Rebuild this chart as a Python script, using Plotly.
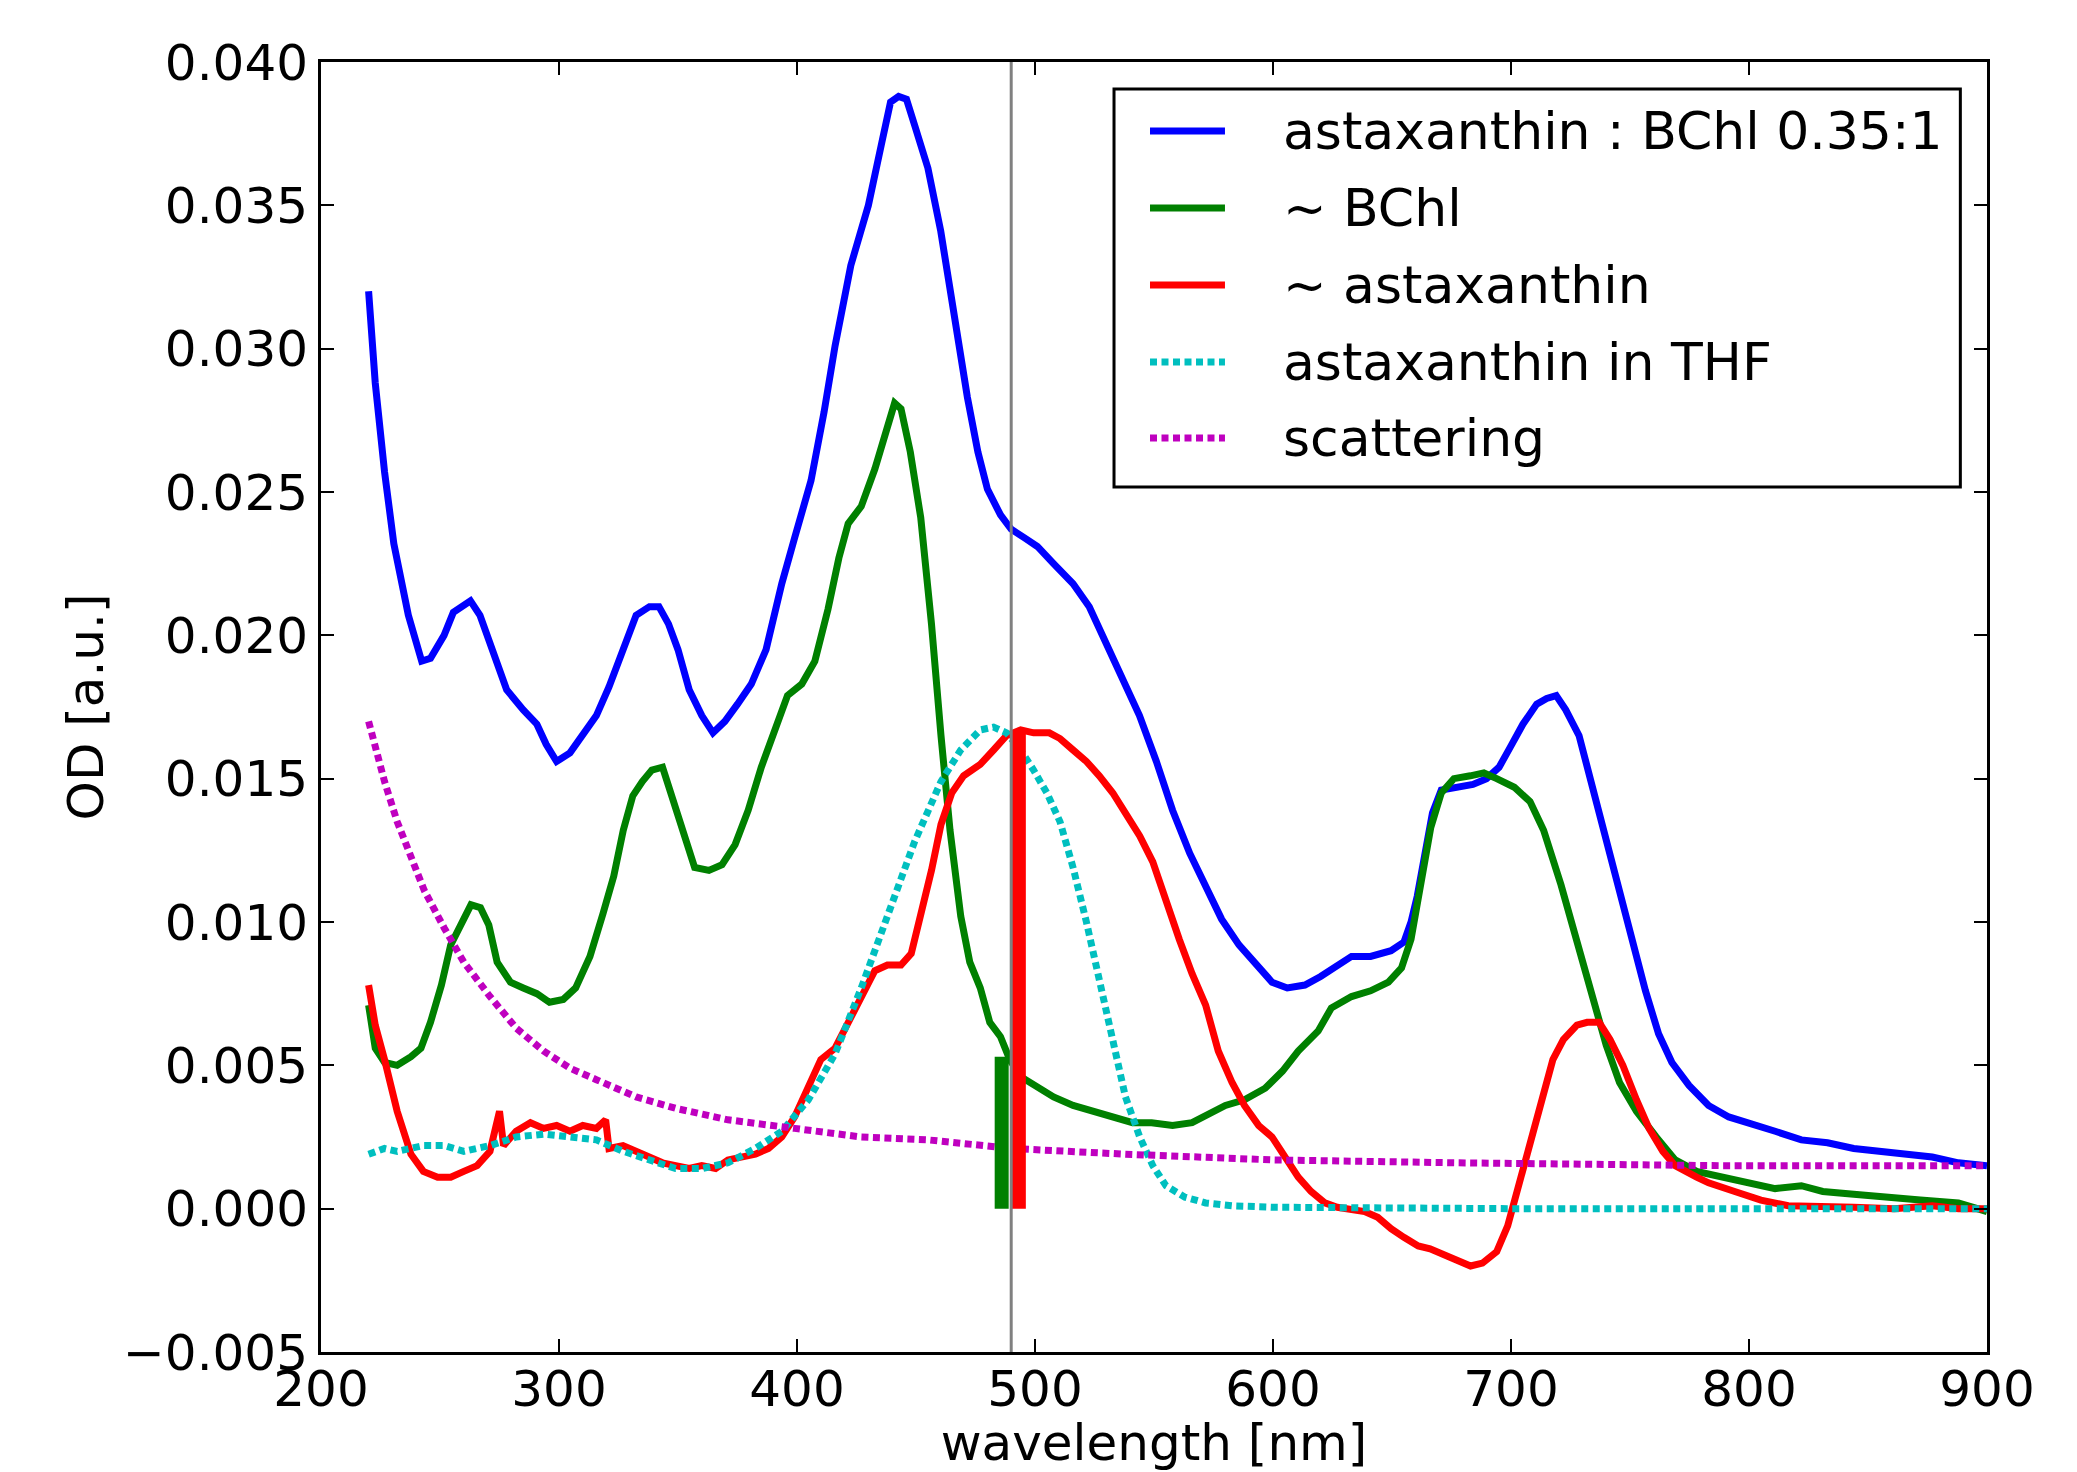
import plotly.graph_objects as go

# ---------------- data ----------------
blue_x = [220, 222.8, 226.7, 230.6, 236.7, 242.3, 246, 251.7, 255.6, 262.8, 266.8, 272, 278, 285, 290.7,
          294.6, 299, 304.6, 310, 315.7, 321, 326.9, 332.4, 338, 342, 346, 350, 354.7, 360, 364.7, 369.7,
          375, 380.8, 387, 393.6, 399, 405.9, 411.4, 416, 422.6, 430, 435.4, 439.3, 442.7, 446, 449.4, 455,
          460.4, 466, 471.6, 476, 480, 485.5, 490, 495.6, 501, 507.8, 516, 522.8, 530, 537, 543.9, 551,
          557.8, 565, 571.7, 578.4, 585.7, 593, 599.6, 606, 613.4, 620, 627.4, 633, 641, 649.6, 655, 658,
          660.6, 664.5, 667, 670.7, 677.4, 684, 689.7, 695, 699.7, 705, 710.8, 715, 719, 723, 728.6, 733,
          739, 745.6, 751, 756.5, 762, 767.6, 774.8, 783, 791.5, 800, 811, 822, 833, 844, 855, 866, 877,
          888, 900]
blue_y = [0.0320, 0.0288, 0.0257, 0.0232, 0.0207, 0.0191, 0.0192, 0.0200, 0.0208, 0.0212, 0.0207, 0.0195,
          0.0181, 0.0174, 0.0169, 0.0162, 0.0156, 0.0159, 0.0165, 0.0172, 0.0182, 0.0195, 0.0207, 0.0210,
          0.0210, 0.0204, 0.0195, 0.0181, 0.0172, 0.0166, 0.0170, 0.0176, 0.0183, 0.0195, 0.0218, 0.0234,
          0.0254, 0.0278, 0.0301, 0.0329, 0.0350, 0.0371, 0.0386, 0.0388, 0.0387, 0.0378, 0.0363, 0.0341,
          0.0311, 0.0283, 0.0264, 0.0251, 0.0242, 0.0237, 0.0234, 0.0231, 0.0225, 0.0218, 0.0210, 0.0197,
          0.0185, 0.0172, 0.0156, 0.0139, 0.0124, 0.0113, 0.0101, 0.0092, 0.0085, 0.0079, 0.0077, 0.0078,
          0.0081, 0.0085, 0.0088, 0.0088, 0.0090, 0.0093, 0.0100, 0.0109, 0.0125, 0.0138, 0.0146, 0.0147,
          0.0148, 0.0150, 0.0154, 0.0161, 0.0169, 0.0176, 0.0178, 0.0179, 0.0174, 0.0165, 0.0151, 0.0132,
          0.0112, 0.0093, 0.0076, 0.0061, 0.0051, 0.0043, 0.0036, 0.0032, 0.0030, 0.0027, 0.0024, 0.0023,
          0.0021, 0.0020, 0.0019, 0.0018, 0.0016, 0.0015]

green_x = [220, 222.8, 226.7, 232, 237.8, 242, 246, 250.6, 254.5, 259, 263, 267, 270.5, 274, 279.6, 285,
           290.7, 296, 301.8, 307, 313, 318.5, 323, 327, 331, 335, 339, 343.5, 347, 352, 357, 363, 368.5,
           374, 379.5, 385, 391, 396, 402, 407.5, 413, 417.6, 421.5, 427, 432.7, 437, 441, 443.7, 447.6,
           452, 456.5, 460.5, 464.3, 468.8, 472.6, 477, 481, 485.5, 489.4, 494, 499.4, 507.8, 516, 524.4,
           532.7, 541, 549, 557.8, 566, 572.8, 580, 588, 596.7, 604, 610.6, 619, 624.5, 633, 641, 648.5,
           654, 658, 661.8, 666.3, 670.7, 676, 682.9, 688.6, 694, 701.4, 708, 713.7, 721, 727.7, 733, 740,
           745.6, 752.7, 761, 769, 778, 789, 800, 811, 822, 831, 844, 855, 872, 888, 900]
green_y = [0.0071, 0.0056, 0.0051, 0.0050, 0.0053, 0.0056, 0.0065, 0.0078, 0.0092, 0.0100, 0.0106, 0.0105,
           0.0099, 0.0086, 0.0079, 0.0077, 0.0075, 0.0072, 0.0073, 0.0077, 0.0088, 0.0103, 0.0116, 0.0132,
           0.0144, 0.0149, 0.0153, 0.0154, 0.0145, 0.0131, 0.0119, 0.0118, 0.0120, 0.0127, 0.0139, 0.0154,
           0.0168, 0.0179, 0.0183, 0.0191, 0.0209, 0.0227, 0.0239, 0.0245, 0.0258, 0.0271, 0.0281, 0.0279,
           0.0264, 0.0241, 0.0204, 0.0165, 0.0132, 0.0102, 0.0086, 0.0077, 0.0065, 0.0060, 0.0052, 0.0046,
           0.0043, 0.0039, 0.0036, 0.0034, 0.0032, 0.0030, 0.0030, 0.0029, 0.0030, 0.0033, 0.0036, 0.0038,
           0.0042, 0.0048, 0.0055, 0.0062, 0.0070, 0.0074, 0.0076, 0.0079, 0.0084, 0.0094, 0.0112, 0.0133,
           0.0145, 0.0150, 0.0151, 0.0152, 0.0150, 0.0147, 0.0142, 0.0132, 0.0113, 0.0093, 0.0076, 0.0057,
           0.0044, 0.0034, 0.0025, 0.0017, 0.0013, 0.0011, 0.0009, 0.0007, 0.0008, 0.0006, 0.0005, 0.0004,
           0.0003, 0.0002, -0.0001]

red_x = [220, 222.8, 226.7, 232, 237.8, 243, 249, 254.5, 260, 265.6, 271, 275, 276.7, 282, 288, 293.5,
         299, 304.6, 310, 315.7, 319.6, 321, 326.9, 332, 338, 343.5, 349, 354.7, 360, 365.8, 371, 377,
         382.5, 388, 393.6, 399, 404.8, 410, 416, 421.5, 427, 432.7, 438, 443.7, 448, 452, 456.5, 460.5,
         465, 470, 477, 482.6, 488, 494, 499.4, 506, 510.5, 516, 521.6, 527, 532.7, 538, 544, 549.5, 555,
         560.6, 566, 571.7, 577, 582.8, 588, 594, 599.6, 605, 610.6, 616, 621.8, 627, 633, 638.5, 644,
         649.6, 655, 661, 666, 672, 677, 683, 688, 694, 698.6, 702.5, 708, 713.7, 717.6, 722, 727.7, 732,
         737, 741.6, 747, 752.7, 758, 763.8, 769, 778, 783, 794, 805, 816.5, 828, 844, 861, 877, 888, 900]
red_y = [0.0078, 0.0064, 0.0052, 0.0034, 0.0019, 0.0013, 0.0011, 0.0011, 0.0013, 0.0015, 0.0020, 0.0034,
         0.0022, 0.0027, 0.0030, 0.0028, 0.0029, 0.0027, 0.0029, 0.0028, 0.0031, 0.0021, 0.0022, 0.0020,
         0.0018, 0.0016, 0.0015, 0.0014, 0.0015, 0.0014, 0.0017, 0.0018, 0.0019, 0.0021, 0.0025, 0.0032,
         0.0042, 0.0052, 0.0056, 0.0065, 0.0074, 0.0083, 0.0085, 0.0085, 0.0089, 0.0102, 0.0118, 0.0134,
         0.0145, 0.0151, 0.0155, 0.0160, 0.0165, 0.0167, 0.0166, 0.0166, 0.0164, 0.0160, 0.0156, 0.0151,
         0.0145, 0.0138, 0.0130, 0.0121, 0.0107, 0.0094, 0.0082, 0.0071, 0.0055, 0.0044, 0.0036, 0.0029,
         0.0025, 0.0018, 0.0011, 0.0006, 0.0002, 0.00005, 0.0, -0.0001, -0.0003, -0.0007, -0.0010, -0.0013,
         -0.0014, -0.0016, -0.0018, -0.0020, -0.0019, -0.0015, -0.0006, 0.0006, 0.0023, 0.0040, 0.0052,
         0.0059, 0.0064, 0.0065, 0.0065, 0.0059, 0.0050, 0.0038, 0.0028, 0.0020, 0.0015, 0.0011, 0.0009,
         0.0006, 0.0003, 0.0001, 0.0001, 0.00005, 0.0, 0.0001, 0.0, 0.0]

cyan_x = [220, 226.7, 232, 243, 251.7, 260, 271, 282, 293.5, 304.6, 315.7, 327, 338, 349, 360, 371, 382.5,
          393.6, 404.8, 416, 427, 438, 449.4, 460.5, 468.8, 477, 482.6, 488, 494, 499.4, 505, 510.5, 516,
          521.6, 527, 532.7, 538, 544, 549.5, 555, 563, 571.7, 583, 600, 650, 700, 750, 800, 850, 900]
cyan_y = [0.0019, 0.0021, 0.0020, 0.0022, 0.0022, 0.0020, 0.0022, 0.0025, 0.0026, 0.0025, 0.0024, 0.0020,
          0.0017, 0.0014, 0.0014, 0.0016, 0.0021, 0.0027, 0.0038, 0.0054, 0.0077, 0.0102, 0.0128, 0.0149,
          0.0160, 0.0167, 0.0168, 0.0166, 0.0160, 0.0153, 0.0145, 0.0135, 0.0119, 0.0100, 0.0080, 0.0059,
          0.0039, 0.0025, 0.0015, 0.0008, 0.0004, 0.0002, 0.0001, 0.00005, 0.0, 0.0, 0.0, 0.0, 0.0, 0.0]

magenta_x = [220, 226.7, 232, 237.8, 243.4, 251.7, 260, 271, 282, 293.5, 304.6, 315.7, 332.4, 349, 371,
             399, 427, 455, 490, 538, 600, 677, 789, 900]
magenta_y = [0.0170, 0.0149, 0.0135, 0.0122, 0.0111, 0.0098, 0.0086, 0.0074, 0.0063, 0.0055, 0.0049,
             0.0045, 0.0039, 0.0035, 0.0031, 0.0028, 0.0025, 0.0024, 0.0021, 0.0019, 0.0017, 0.0016,
             0.0015, 0.0015]

marker_wavelength = 490
bchl_bar_x, bchl_bar_y = 486, 0.0053
axt_bar_x, axt_bar_y = 493, 0.0167

series_names = ["astaxanthin : BChl 0.35:1", "~ BChl", "~ astaxanthin",
                "astaxanthin in THF", "scattering"]
series_colors = ["#0000ff", "#008000", "#ff0000", "#00bfbf", "#bf00bf"]
series_dash = ["solid", "solid", "solid", "7px,4.5px", "7px,4.5px"]

x_ticks = [200, 300, 400, 500, 600, 700, 800, 900]
y_ticks = [-0.005, 0.0, 0.005, 0.010, 0.015, 0.020, 0.025, 0.030, 0.035, 0.040]

# ---------------- figure ----------------
FONT = "DejaVu Sans"
fig = go.Figure()

xs = [blue_x, green_x, red_x, cyan_x, magenta_x]
ys = [blue_y, green_y, red_y, cyan_y, magenta_y]
for xv, yv, name, col, dash in zip(xs, ys, series_names, series_colors, series_dash):
    fig.add_trace(go.Scatter(x=xv, y=yv, mode="lines", name=name, showlegend=False,
                             line=dict(color=col, width=7, dash=dash)))

# thick vertical markers (drawn on top)
fig.add_trace(go.Scatter(x=[bchl_bar_x, bchl_bar_x], y=[0, bchl_bar_y], mode="lines",
                         showlegend=False, line=dict(color="#008000", width=14)))
fig.add_trace(go.Scatter(x=[axt_bar_x, axt_bar_x], y=[0, axt_bar_y], mode="lines",
                         showlegend=False, line=dict(color="#ff0000", width=15)))

fig.add_vline(x=marker_wavelength, line=dict(color="#808080", width=3), layer="above")

# manual legend (matplotlib-like)
leg_x0, leg_x1, leg_y0, leg_y1 = 0.476, 0.984, 0.6705, 0.979
fig.add_shape(type="rect", xref="paper", yref="paper", x0=leg_x0, x1=leg_x1, y0=leg_y0, y1=leg_y1,
              line=dict(color="black", width=3), fillcolor="white", layer="above")
entry_y = [0.9465, 0.8868, 0.8271, 0.7674, 0.7085]
for yy, name, col, dash in zip(entry_y, series_names, series_colors, series_dash):
    fig.add_shape(type="line", xref="paper", yref="paper", x0=0.4976, x1=0.5426, y0=yy, y1=yy,
                  line=dict(color=col, width=7, dash=dash), layer="above")
    fig.add_annotation(xref="paper", yref="paper", x=0.5760, y=yy, text=name, showarrow=False,
                       xanchor="left", yanchor="middle", font=dict(family=FONT, size=52, color="black"))

axis_common = dict(showgrid=False, zeroline=False, showline=True, linecolor="black", linewidth=3,
                   mirror="allticks", ticks="inside", ticklen=13, tickwidth=2, tickcolor="black",
                   automargin=False, tickfont=dict(family=FONT, size=50, color="black"))
fig.update_xaxes(range=[200, 900], tickvals=x_ticks, ticktext=[str(v) for v in x_ticks],
                 ticklabelstandoff=-9,
                 title=dict(text="wavelength [nm]", font=dict(family=FONT, size=50, color="black"),
                            standoff=17),
                 **axis_common)
fig.update_yaxes(range=[-0.005, 0.040], tickvals=y_ticks,
                 ticktext=[("\u2212%.3f" % abs(v)) if v < 0 else "%.3f" % v for v in y_ticks],
                 title=dict(text="OD [a.u.]", font=dict(family=FONT, size=50, color="black"),
                            standoff=4),
                 **axis_common)

fig.update_layout(width=2069, height=1464, margin=dict(l=313, r=90, t=54, b=120),
                  paper_bgcolor="white", plot_bgcolor="white", showlegend=False,
                  font=dict(family=FONT, size=50, color="black"))

fig.write_html("out.html")
